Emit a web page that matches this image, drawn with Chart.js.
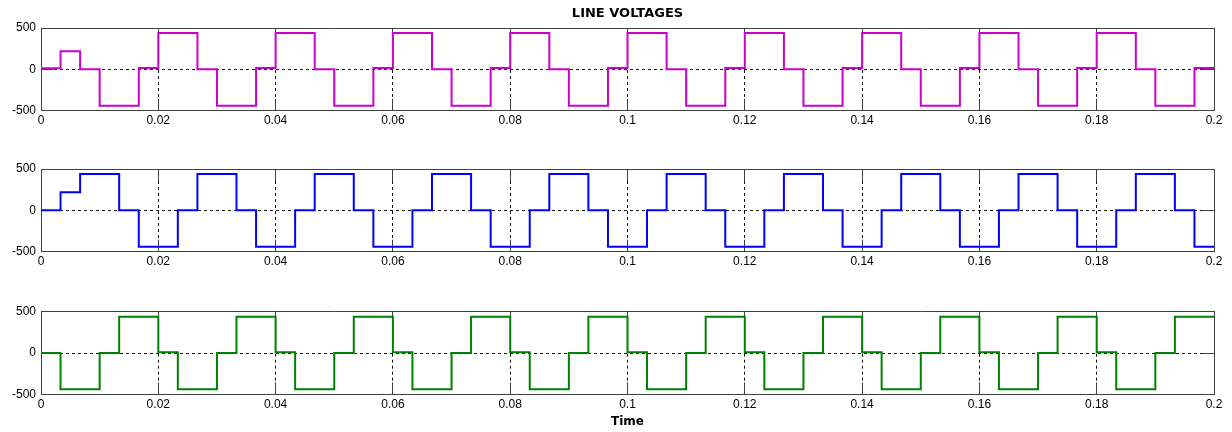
<!DOCTYPE html>
<html>
<head>
<meta charset="utf-8">
<title>Line voltages</title>
<script src="https://cdn.jsdelivr.net/npm/chart.js@4/dist/chart.umd.min.js"></script>
<style>
  body { margin: 0; background: #fff; }
  .plot { position: absolute; left: 0; width: 1232px; }
</style>
</head>
<body>
<div class="plot" style="top:0px;height:140px"><canvas id="vabChart"></canvas></div>
<div class="plot" style="top:140px;height:140px"><canvas id="vbcChart"></canvas></div>
<div class="plot" style="top:280px;height:152px"><canvas id="vcaChart"></canvas></div>
<script>
// switching instants (s)
const times = [
    0, 0.00333, 0.00667, 0.01, 0.01333, 0.01667,
    0.02, 0.02333, 0.02667, 0.03, 0.03333, 0.03667,
    0.04, 0.04333, 0.04667, 0.05, 0.05333, 0.05667,
    0.06, 0.06333, 0.06667, 0.07, 0.07333, 0.07667,
    0.08, 0.08333, 0.08667, 0.09, 0.09333, 0.09667,
    0.1, 0.10333, 0.10667, 0.11, 0.11333, 0.11667,
    0.12, 0.12333, 0.12667, 0.13, 0.13333, 0.13667,
    0.14, 0.14333, 0.14667, 0.15, 0.15333, 0.15667,
    0.16, 0.16333, 0.16667, 0.17, 0.17333, 0.17667,
    0.18, 0.18333, 0.18667, 0.19, 0.19333, 0.19667,
    0.2
];

// line voltage level (V) from each instant on
const vab = [
    12, 220, 0, -440, -440, 15,
    440, 440, 0, -440, -440, 15,
    440, 440, 0, -440, -440, 15,
    440, 440, 0, -440, -440, 15,
    440, 440, 0, -440, -440, 15,
    440, 440, 0, -440, -440, 15,
    440, 440, 0, -440, -440, 15,
    440, 440, 0, -440, -440, 15,
    440, 440, 0, -440, -440, 15,
    440, 440, 0, -440, -440, 15,
    15
];
const vbc = [
    0, 220, 440, 440, 0, -440,
    -440, 0, 440, 440, 0, -440,
    -440, 0, 440, 440, 0, -440,
    -440, 0, 440, 440, 0, -440,
    -440, 0, 440, 440, 0, -440,
    -440, 0, 440, 440, 0, -440,
    -440, 0, 440, 440, 0, -440,
    -440, 0, 440, 440, 0, -440,
    -440, 0, 440, 440, 0, -440,
    -440, 0, 440, 440, 0, -440,
    -440
];
const vca = [
    0, -440, -440, 0, 440, 440,
    10, -440, -440, 0, 440, 440,
    10, -440, -440, 0, 440, 440,
    10, -440, -440, 0, 440, 440,
    10, -440, -440, 0, 440, 440,
    10, -440, -440, 0, 440, 440,
    10, -440, -440, 0, 440, 440,
    10, -440, -440, 0, 440, 440,
    10, -440, -440, 0, 440, 440,
    10, -440, -440, 0, 440, 440,
    440
];

const timeRange = [0, 0.2];
const timeStep = 0.02;
const voltRange = [-500, 500];
const voltStep = 500;

Chart.defaults.font.family = 'Arial, "Liberation Sans", Helvetica, sans-serif';
Chart.defaults.font.size = 12;
Chart.defaults.color = '#000';

const boxColor = '#404040';
const boldFont = { family: '"DejaVu Sans", Arial, sans-serif', size: 12, weight: 'bold' };

// axis that only draws the box side and the inward tick marks
function tickOnlyAxis(axis, position, range, step, weight) {
    return {
        type: 'linear',
        axis: axis,
        position: position,
        weight: weight,
        min: range[0],
        max: range[1],
        ticks: { stepSize: step, display: false },
        grid: { drawOnChartArea: false, tickLength: -12, tickColor: boxColor, tickWidth: 1 },
        border: { color: boxColor, width: 1 },
        afterFit: s => { if (axis === 'x') { s.height = 0; } else { s.width = 0; } }
    };
}

// one subplot: a stepped line inside a closed box with inward ticks
function drawPanel(canvasId, values, color, padTop, axisHeight, title, xTitle) {
    const points = times.map((t, i) => ({ x: t, y: values[i] }));
    const ctx = document.getElementById(canvasId).getContext('2d');
    return new Chart(ctx, {
        type: 'line',
        data: {
            datasets: [{
                data: points,
                borderColor: color,
                borderWidth: 2,
                stepped: true,
                pointRadius: 0,
                fill: false
            }]
        },
        options: {
            responsive: true,
            maintainAspectRatio: false,
            animation: false,
            layout: { padding: { top: padTop, right: 18, left: 0, bottom: 0 } },
            plugins: {
                legend: { display: false },
                tooltip: { enabled: false },
                title: {
                    display: !!title,
                    text: title,
                    fullSize: false,
                    color: '#000',
                    font: { family: boldFont.family, size: 13, weight: 'bold' },
                    padding: { top: 5.5, bottom: 6.9 }
                }
            },
            scales: {
                x: {
                    type: 'linear',
                    position: 'bottom',
                    weight: 1,
                    min: timeRange[0],
                    max: timeRange[1],
                    ticks: {
                        stepSize: timeStep,
                        padding: 3,
                        maxRotation: 0,
                        autoSkip: false,
                        callback: v => String(+v.toFixed(2))
                    },
                    grid: { color: '#111', lineWidth: 1, drawTicks: false },
                    border: { color: boxColor, width: 1, dash: [3, 3] },
                    title: {
                        display: !!xTitle,
                        text: xTitle,
                        color: '#000',
                        font: boldFont,
                        padding: { top: 0, bottom: 3 }
                    },
                    afterFit: s => { s.height = axisHeight; }
                },
                xBottomTicks: tickOnlyAxis('x', 'bottom', timeRange, timeStep, 0),
                xTopTicks: tickOnlyAxis('x', 'top', timeRange, timeStep, 0),
                y: {
                    type: 'linear',
                    position: 'left',
                    min: voltRange[0],
                    max: voltRange[1],
                    ticks: { stepSize: voltStep, padding: 17 },
                    grid: { color: '#111', lineWidth: 1, tickLength: -12, tickColor: boxColor, tickWidth: 1 },
                    border: { color: boxColor, width: 1, dash: [3, 3] },
                    afterFit: s => { s.width = 41; }
                },
                yRightTicks: tickOnlyAxis('y', 'right', voltRange, voltStep, 0)
            }
        }
    });
}

drawPanel('vabChart', vab, '#cc00cc', 0, 29.3, 'LINE VOLTAGES', '');
drawPanel('vbcChart', vbc, '#0000ff', 29, 28.3, '', '');
drawPanel('vcaChart', vca, '#008000', 31.7, 37.7, '', 'Time');
</script>
</body>
</html>
